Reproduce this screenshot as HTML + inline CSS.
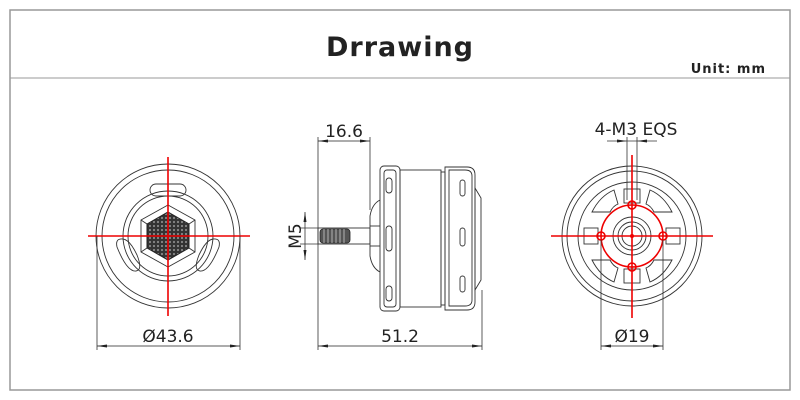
<!DOCTYPE html>
<html><head><meta charset="utf-8"><style>
html,body{margin:0;padding:0;background:#fff;width:800px;height:400px;overflow:hidden}
svg text{font-family:"DejaVu Sans","Liberation Sans",sans-serif}
</style></head><body>
<svg width="800" height="400" viewBox="0 0 800 400" xmlns="http://www.w3.org/2000/svg">
<defs>
<marker id="a" viewBox="0 0 10 6" refX="10" refY="3" markerWidth="10" markerHeight="6" orient="auto-start-reverse" markerUnits="userSpaceOnUse"><path d="M0,1.5L10,3L0,4.5z" fill="#222"/></marker>
<pattern id="mesh" width="4" height="4" patternUnits="userSpaceOnUse"><rect width="4" height="4" fill="#333"/><circle cx="2" cy="2" r="1.1" fill="#888"/></pattern>
</defs>
<rect x="10" y="10" width="780" height="380" fill="none" stroke="#999" stroke-width="1.5"/>
<line x1="10" y1="78" x2="790" y2="78" stroke="#999" stroke-width="1"/>
<text x="400" y="56" font-size="27" font-weight="bold" text-anchor="middle" fill="#222" letter-spacing="1">Drrawing</text>
<text x="766" y="73" font-size="13" font-weight="bold" text-anchor="end" fill="#222" letter-spacing="1">Unit: mm</text>

<!-- LEFT VIEW -->
<g fill="none" stroke="#333" stroke-width="0.9">
<circle cx="168" cy="236" r="72"/>
<circle cx="168" cy="236" r="66"/>
<circle cx="168" cy="236" r="45"/>
<circle cx="168" cy="236" r="40"/>
<rect x="150" y="184" width="36" height="12" rx="6"/>
<path d="M117 247 q-2 -9 6 -8 q7 1 14 16 q6 15 -1 16 q-9 1 -19 -24z"/>
<path d="M219 247 q2 -9 -6 -8 q-7 1 -14 16 q-6 15 1 16 q9 1 19 -24z"/>
<polygon points="168,205 195,220 195,252 168,267 141,252 141,220"/>
<line x1="168" y1="205" x2="168" y2="212"/><line x1="168" y1="267" x2="168" y2="260"/>
<line x1="195" y1="220" x2="189" y2="224"/><line x1="141" y1="220" x2="147" y2="224"/>
<line x1="195" y1="252" x2="189" y2="248"/><line x1="141" y1="252" x2="147" y2="248"/>
</g>
<polygon points="168,212 189,224 189,248 168,260 147,248 147,224" fill="url(#mesh)" stroke="#222"/>
<g stroke="#e00" stroke-width="1.6"><line x1="88" y1="236" x2="250" y2="236"/><line x1="168" y1="157" x2="168" y2="316"/></g>
<g stroke="#333" stroke-width="0.8"><line x1="97" y1="236" x2="97" y2="350"/><line x1="240" y1="236" x2="240" y2="350"/></g>
<line x1="97" y1="346" x2="240" y2="346" stroke="#222" stroke-width="0.8" marker-start="url(#a)" marker-end="url(#a)"/>
<text x="168" y="342" font-size="17" text-anchor="middle" fill="#222">Ø43.6</text>

<!-- MIDDLE VIEW -->
<g fill="none" stroke="#333" stroke-width="0.9">
<rect x="380" y="166" width="20" height="145" rx="4"/>
<rect x="384" y="170" width="12" height="137" rx="3"/>
<rect x="400" y="170" width="41" height="137"/>
<rect x="441" y="172" width="4" height="133"/>
<path d="M445 167 h22 q8 0 8 8 v127 q0 8 -8 8 h-22z"/>
<path d="M449 170 h16 q7 0 7 6 v124 q0 6 -7 6 h-16z"/>
<path d="M475 188 l6 10 v82 l-6 10z"/>
<rect x="386" y="178" width="6" height="15" rx="3"/>
<rect x="386" y="226" width="6" height="25" rx="3"/>
<rect x="386" y="286" width="6" height="15" rx="3"/>
<rect x="460" y="180" width="5" height="16" rx="2.5"/>
<rect x="460" y="228" width="5" height="18" rx="2.5"/>
<rect x="460" y="276" width="5" height="16" rx="2.5"/>
<path d="M380 200 q-8 4 -10 16 v40 q2 12 10 16"/>
<line x1="370" y1="226" x2="380" y2="226"/><line x1="370" y1="246" x2="380" y2="246"/>
<rect x="318" y="228" width="52" height="16"/>
</g>
<rect x="320" y="229" width="30" height="14" rx="3" fill="#555" stroke="#222" stroke-width="0.8"/>
<g stroke="#ccc" stroke-width="0.8"><line x1="324" y1="229" x2="324" y2="243"/><line x1="328" y1="229" x2="328" y2="243"/><line x1="332" y1="229" x2="332" y2="243"/><line x1="336" y1="229" x2="336" y2="243"/><line x1="340" y1="229" x2="340" y2="243"/><line x1="344" y1="229" x2="344" y2="243"/></g>
<g stroke="#333" stroke-width="0.8">
<line x1="318" y1="137" x2="318" y2="350"/><line x1="370" y1="137" x2="370" y2="210"/><line x1="482" y1="290" x2="482" y2="350"/>
<line x1="300" y1="228" x2="318" y2="228"/><line x1="300" y1="244" x2="318" y2="244"/>
<line x1="305" y1="212" x2="305" y2="260"/>
</g>
<line x1="318" y1="141" x2="370" y2="141" stroke="#222" stroke-width="0.8" marker-start="url(#a)" marker-end="url(#a)"/>
<path d="M305 212 l-1.5 10 h3z M305 260 l-1.5 -10 h3z" fill="#222"/>
<text x="344" y="137" font-size="17" text-anchor="middle" fill="#222">16.6</text>
<text transform="translate(301,236) rotate(-90)" font-size="17" text-anchor="middle" fill="#222">M5</text>
<line x1="318" y1="346" x2="482" y2="346" stroke="#222" stroke-width="0.8" marker-start="url(#a)" marker-end="url(#a)"/>
<text x="400" y="342" font-size="17" text-anchor="middle" fill="#222">51.2</text>

<!-- RIGHT VIEW -->
<g fill="none" stroke="#333" stroke-width="0.9">
<circle cx="632" cy="236" r="70"/>
<circle cx="632" cy="236" r="65"/>
<circle cx="632" cy="236" r="54"/>
<circle cx="632" cy="236" r="19"/>
<circle cx="632" cy="236" r="14"/>
<circle cx="632" cy="236" r="10"/>
<path d="M650 190 q14 6 22 22 h-18 q-3 -6 -8 -8z"/>
<path d="M614 282 q-14 -6 -22 -22 h18 q3 6 8 8z"/>
<path d="M614 190 q-14 6 -22 22 h18 q3 -6 8 -8z"/>
<path d="M650 282 q14 -6 22 -22 h-18 q-3 6 -8 8z"/>
<rect x="624" y="189" width="16" height="14"/><rect x="624" y="269" width="16" height="14"/>
<rect x="584" y="228" width="14" height="16"/><rect x="666" y="228" width="14" height="16"/>
</g>
<g fill="none" stroke="#e00" stroke-width="1.6">
<circle cx="632" cy="236" r="31"/>
<circle cx="632" cy="205" r="4"/><circle cx="632" cy="267" r="4"/><circle cx="601" cy="236" r="4"/><circle cx="663" cy="236" r="4"/>
<line x1="551" y1="236" x2="713" y2="236"/><line x1="632" y1="155" x2="632" y2="318"/>
</g>
<circle cx="632" cy="236" r="2" fill="#e00"/>
<g stroke="#333" stroke-width="0.8">
<line x1="601" y1="240" x2="601" y2="350"/><line x1="663" y1="240" x2="663" y2="350"/>
<line x1="627" y1="137" x2="627" y2="200"/><line x1="637" y1="137" x2="637" y2="200"/>
<line x1="607" y1="141" x2="657" y2="141"/>
</g>
<path d="M627 141 l-10 -1.5 v3z M637 141 l10 -1.5 v3z" fill="#222"/>
<text x="636" y="135" font-size="17" text-anchor="middle" fill="#222">4-M3 EQS</text>
<line x1="601" y1="346" x2="663" y2="346" stroke="#222" stroke-width="0.8" marker-start="url(#a)" marker-end="url(#a)"/>
<text x="632" y="342" font-size="17" text-anchor="middle" fill="#222">Ø19</text>
</svg>
</body></html>
